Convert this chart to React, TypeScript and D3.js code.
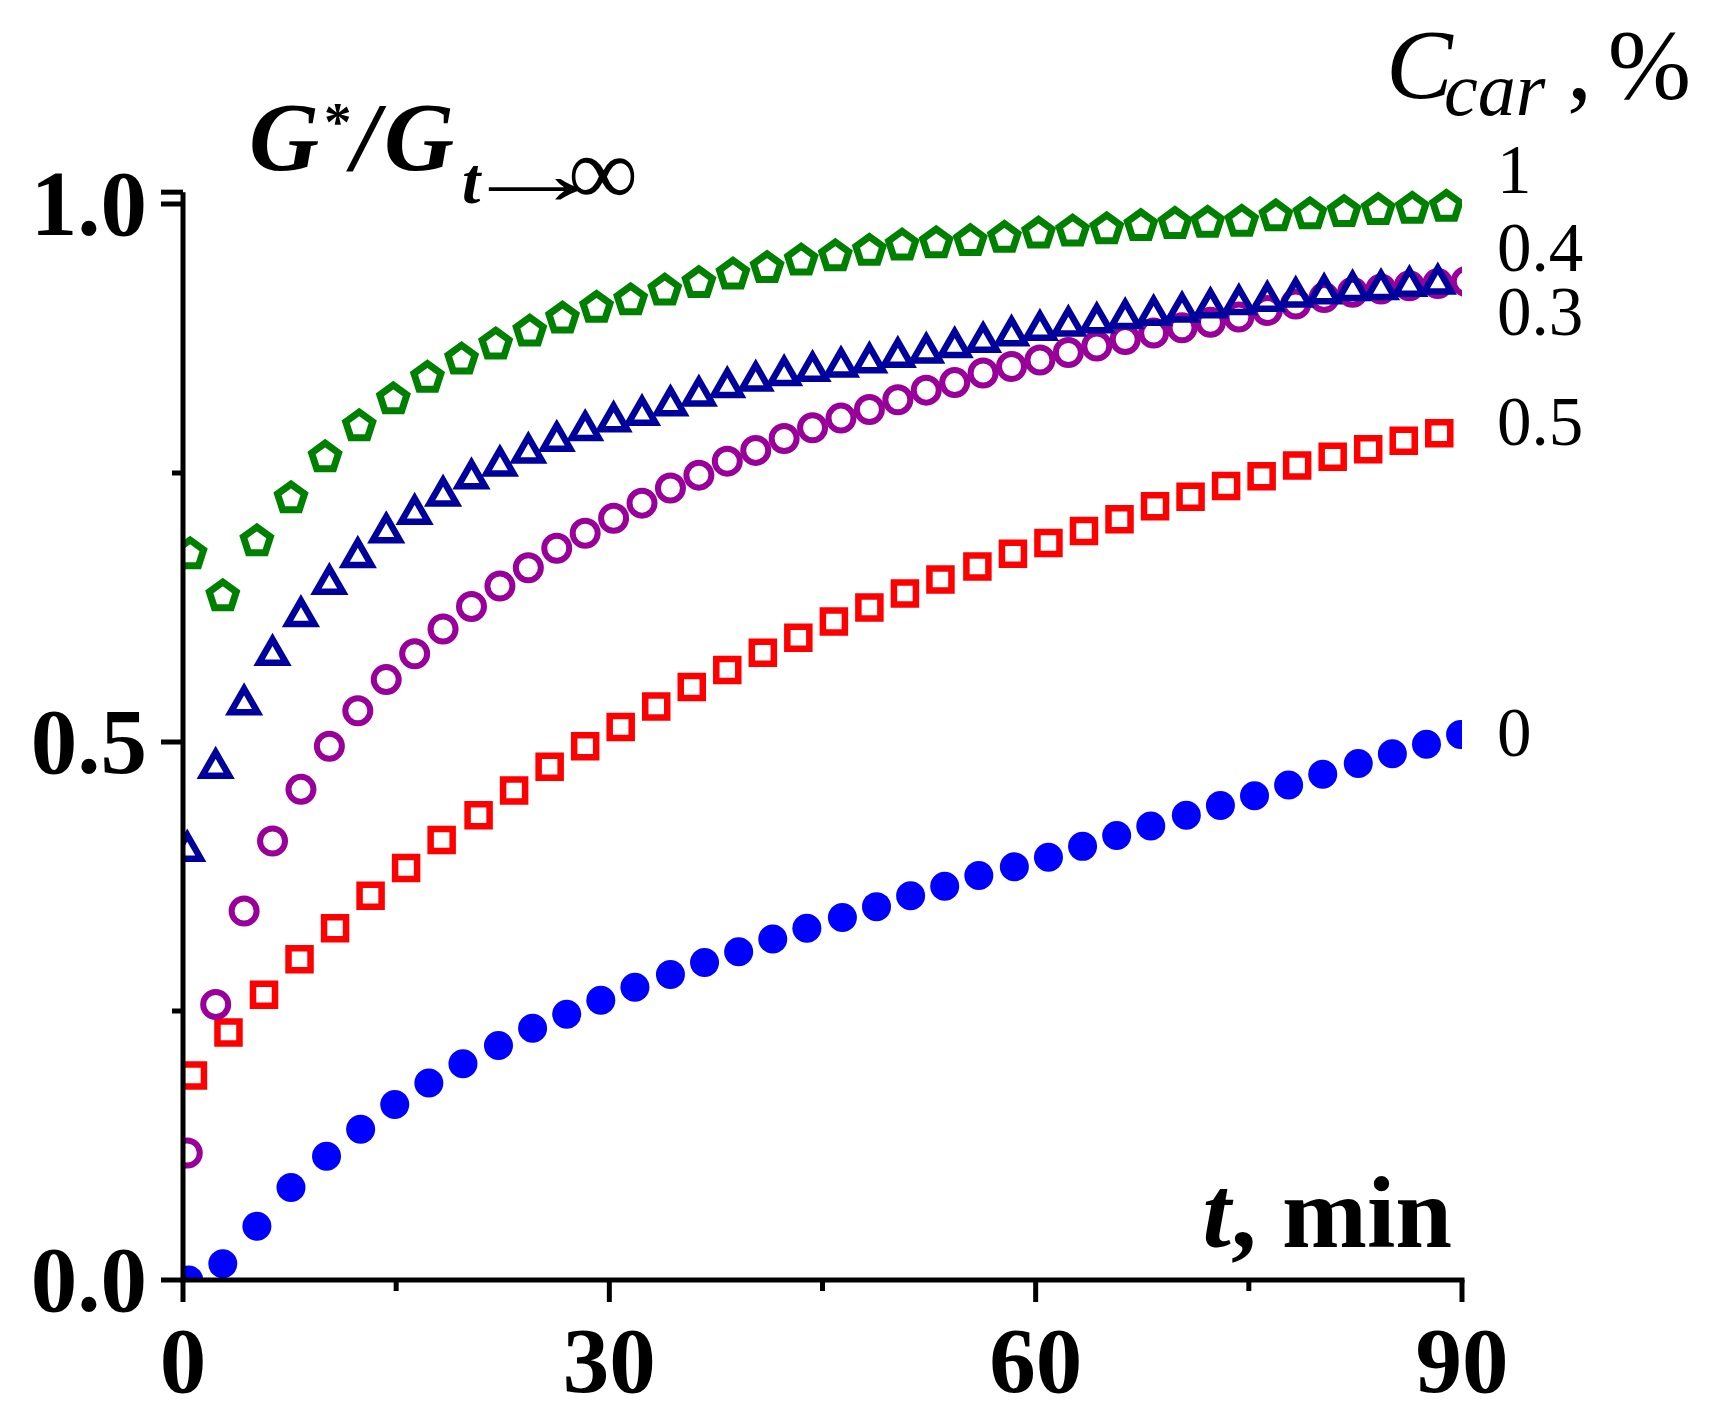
import React from "react";
import * as d3 from "d3";

// axis ticks
const xTicks = [0, 30, 60, 90];
const xMinorTicks = [15, 45, 75];
const yTicks = [0, 0.5, 1.0];
const yTickLabels = ["0.0", "0.5", "1.0"];
const yMinorTicks = [0.25, 0.75];

// C_car = 0 (filled blue dots)
const timeC0 = [0.4, 2.8, 5.2, 7.6, 10.1, 12.5, 14.9, 17.3, 19.7, 22.2, 24.6, 27.0, 29.4, 31.8, 34.3, 36.7, 39.1, 41.5, 43.9, 46.4, 48.8, 51.2, 53.6, 56.0, 58.5, 60.9, 63.3, 65.7, 68.1, 70.6, 73.0, 75.4, 77.8, 80.2, 82.7, 85.1, 87.5, 89.9];
const valC0 = [0.0, 0.015, 0.05, 0.086, 0.115, 0.14, 0.163, 0.183, 0.201, 0.218, 0.234, 0.247, 0.26, 0.272, 0.284, 0.295, 0.305, 0.317, 0.327, 0.337, 0.347, 0.357, 0.366, 0.376, 0.384, 0.393, 0.403, 0.413, 0.422, 0.432, 0.441, 0.45, 0.46, 0.47, 0.48, 0.489, 0.498, 0.507];

// C_car = 0.5 (red squares)
const timeC05 = [0.7, 3.2, 5.7, 8.2, 10.7, 13.2, 15.7, 18.2, 20.8, 23.3, 25.8, 28.3, 30.8, 33.3, 35.8, 38.3, 40.8, 43.3, 45.8, 48.3, 50.8, 53.3, 55.9, 58.4, 60.9, 63.4, 65.9, 68.4, 70.9, 73.4, 75.9, 78.4, 80.9, 83.4, 85.9, 88.4];
const valC05 = [0.19, 0.23, 0.265, 0.298, 0.327, 0.357, 0.383, 0.409, 0.432, 0.455, 0.477, 0.496, 0.514, 0.533, 0.551, 0.567, 0.583, 0.597, 0.612, 0.625, 0.638, 0.651, 0.663, 0.675, 0.685, 0.696, 0.707, 0.719, 0.728, 0.738, 0.747, 0.757, 0.765, 0.772, 0.78, 0.787];

// C_car = 0.3 (purple open circles)
const timeC03 = [0.3, 2.3, 4.3, 6.3, 8.3, 10.3, 12.3, 14.3, 16.3, 18.3, 20.3, 22.3, 24.3, 26.3, 28.3, 30.3, 32.3, 34.3, 36.3, 38.3, 40.3, 42.3, 44.3, 46.3, 48.3, 50.3, 52.3, 54.3, 56.3, 58.3, 60.3, 62.3, 64.3, 66.3, 68.3, 70.3, 72.3, 74.3, 76.3, 78.3, 80.3, 82.3, 84.3, 86.3, 88.3, 90.3];
const valC03 = [0.118, 0.256, 0.343, 0.408, 0.456, 0.496, 0.529, 0.558, 0.582, 0.605, 0.626, 0.645, 0.662, 0.68, 0.694, 0.708, 0.722, 0.736, 0.748, 0.761, 0.771, 0.782, 0.792, 0.801, 0.809, 0.818, 0.827, 0.834, 0.843, 0.849, 0.855, 0.862, 0.868, 0.874, 0.88, 0.885, 0.89, 0.895, 0.901, 0.907, 0.913, 0.918, 0.921, 0.924, 0.926, 0.928];

// C_car = 0.4 (navy open triangles)
const timeC04 = [0.3, 2.3, 4.3, 6.3, 8.3, 10.3, 12.3, 14.3, 16.3, 18.3, 20.3, 22.3, 24.3, 26.3, 28.3, 30.3, 32.3, 34.3, 36.3, 38.3, 40.3, 42.3, 44.3, 46.3, 48.3, 50.3, 52.3, 54.3, 56.3, 58.3, 60.3, 62.3, 64.3, 66.3, 68.3, 70.3, 72.3, 74.3, 76.3, 78.3, 80.3, 82.3, 84.3, 86.3, 88.3];
const valC04 = [0.404, 0.481, 0.54, 0.586, 0.622, 0.652, 0.677, 0.7, 0.717, 0.734, 0.75, 0.762, 0.774, 0.785, 0.795, 0.803, 0.809, 0.818, 0.827, 0.835, 0.841, 0.846, 0.85, 0.854, 0.858, 0.863, 0.867, 0.872, 0.877, 0.883, 0.888, 0.892, 0.895, 0.899, 0.902, 0.905, 0.909, 0.912, 0.915, 0.919, 0.922, 0.925, 0.926, 0.929, 0.931];

// C_car = 1 (green open pentagons)
const timeC1 = [0.5, 2.8, 5.2, 7.6, 10.0, 12.4, 14.8, 17.2, 19.6, 22.0, 24.4, 26.7, 29.1, 31.5, 33.9, 36.3, 38.7, 41.1, 43.5, 45.9, 48.3, 50.6, 53.0, 55.4, 57.8, 60.2, 62.6, 65.0, 67.4, 69.8, 72.1, 74.5, 76.9, 79.3, 81.7, 84.1, 86.5, 88.9];
const valC1 = [0.676, 0.637, 0.688, 0.728, 0.766, 0.795, 0.82, 0.84, 0.857, 0.871, 0.883, 0.895, 0.905, 0.912, 0.921, 0.928, 0.936, 0.942, 0.949, 0.953, 0.958, 0.963, 0.965, 0.967, 0.97, 0.974, 0.976, 0.978, 0.981, 0.983, 0.984, 0.985, 0.99, 0.992, 0.994, 0.996, 0.997, 0.999];

// labels at the right end of the curves, top to bottom
const seriesLabels = ["1", "0.4", "0.3", "0.5", "0"];

const W = 1710;
const H = 1422;
const FONT = "'Liberation Serif', 'Times New Roman', serif";

const x = d3.scaleLinear().domain([0, 90]).range([183, 1462]);
const y = d3.scaleLinear().domain([0, 1]).range([1280, 204]);

// 도형 경로 (중심 기준)
const trianglePath = (() => {
  const p = d3.path();
  const w = 27, h = 23.5, dy = 1.6;
  p.moveTo(0, -h / 2 + dy);
  p.lineTo(w / 2, h / 2 + dy);
  p.lineTo(-w / 2, h / 2 + dy);
  p.closePath();
  return p.toString();
})();

const pentagonPath = (() => {
  const p = d3.path();
  const r = 14.2, dy = 1.6;
  d3.range(5).forEach(k => {
    const a = -Math.PI / 2 + (k * 2 * Math.PI) / 5;
    const px = r * Math.cos(a), py = r * Math.sin(a) + dy;
    if (k === 0) p.moveTo(px, py);
    else p.lineTo(px, py);
  });
  p.closePath();
  return p.toString();
})();

const squarePath = d3.symbol(d3.symbolSquare, 22 * 22)()!;

const zip = (ts: number[], vs: number[]) => ts.map((t, i) => ({ t, v: vs[i] }));

const App: React.FC = () => {
  const x0 = x(0);
  const y0 = y(0);
  const axisTop = y(1.011);

  return (
    <svg width={W} height={H} style={{ position: "absolute", left: 0, top: 0, background: "#fff" }}
      fontFamily={FONT}>
      <defs>
        <clipPath id="plot">
          <rect x={x0} y={0} width={x(90) - x0} height={y0} />
        </clipPath>
      </defs>

      <g clipPath="url(#plot)">
        {zip(timeC0, valC0).map((d, i) => (
          <circle key={"a" + i} cx={x(d.t)} cy={y(d.v)} r={14.5} fill="#0000ff" />
        ))}
        {zip(timeC05, valC05).map((d, i) => (
          <path key={"b" + i} d={squarePath} transform={`translate(${x(d.t)},${y(d.v)})`}
            fill="none" stroke="#ff0000" strokeWidth={6.5} />
        ))}
        {zip(timeC03, valC03).map((d, i) => (
          <circle key={"c" + i} cx={x(d.t)} cy={y(d.v)} r={12.5} fill="none" stroke="#990099" strokeWidth={6} />
        ))}
        {zip(timeC04, valC04).map((d, i) => (
          <path key={"d" + i} d={trianglePath} transform={`translate(${x(d.t)},${y(d.v)})`}
            fill="none" stroke="#00009c" strokeWidth={6.5} strokeLinejoin="miter" />
        ))}
        {zip(timeC1, valC1).map((d, i) => (
          <path key={"e" + i} d={pentagonPath} transform={`translate(${x(d.t)},${y(d.v)})`}
            fill="none" stroke="#008000" strokeWidth={7} strokeLinejoin="miter" />
        ))}
      </g>

      {/* axes */}
      <g stroke="#000" strokeWidth={5}>
        <line x1={x0} x2={x0} y1={y0 + 2.5} y2={axisTop} />
        <line x1={x0 - 2.5} x2={x(90) + 2.5} y1={y0} y2={y0} />
        <line x1={x0 - 22} x2={x0} y1={axisTop} y2={axisTop} />
        {yTicks.map(t => (
          <line key={"yt" + t} x1={x0 - 22} x2={x0} y1={y(t)} y2={y(t)} />
        ))}
        {yMinorTicks.map(t => (
          <line key={"ym" + t} x1={x0 - 11} x2={x0} y1={y(t)} y2={y(t)} />
        ))}
        {xTicks.map(t => (
          <line key={"xt" + t} x1={x(t)} x2={x(t)} y1={y0} y2={y0 + 22} />
        ))}
        {xMinorTicks.map(t => (
          <line key={"xm" + t} x1={x(t)} x2={x(t)} y1={y0} y2={y0 + 11} />
        ))}
      </g>

      {/* tick labels */}
      <g fontSize={93} fontWeight="bold" fill="#000">
        {yTicks.map((t, i) => (
          <text key={"yl" + t} x={147} y={y(t) + 31} textAnchor="end">{yTickLabels[i]}</text>
        ))}
        {xTicks.map(t => (
          <text key={"xl" + t} x={x(t)} y={1392} textAnchor="middle">{t}</text>
        ))}
      </g>

      {/* axis titles */}
      <text x={1452} y={1247} fontSize={102} fontWeight="bold" textAnchor="end">
        <tspan fontStyle="italic">t</tspan>, min
      </text>

      <g fontWeight="bold" fontStyle="italic">
        <text x={249} y={170} fontSize={97}>G</text>
        <text x={324} y={140} fontSize={55} fontStyle="normal">*</text>
        <text x={352} y={170} fontSize={97}>/</text>
        <text x={384} y={170} fontSize={97}>G</text>
        <text x={462} y={203} fontSize={66}>t</text>
      </g>
      <text transform="translate(457,204) scale(1.95,1.1)" fontSize={80}>→</text>
      <text x={568} y={205} fontSize={98}>∞</text>

      <g fontStyle="italic">
        <text x={1386} y={98} fontSize={100}>C</text>
        <text x={1444} y={115} fontSize={76}>car</text>
      </g>
      <text x={1567} y={98} fontSize={100}>,</text>
      <text x={1691} y={98} fontSize={100} textAnchor="end">%</text>

      {/* curve labels */}
      <g fontSize={69}>
        <text x={1497} y={193}>{seriesLabels[0]}</text>
        <text x={1497} y={271}>{seriesLabels[1]}</text>
        <text x={1497} y={335}>{seriesLabels[2]}</text>
        <text x={1497} y={445}>{seriesLabels[3]}</text>
        <text x={1497} y={756}>{seriesLabels[4]}</text>
      </g>
    </svg>
  );
};

export default App;
